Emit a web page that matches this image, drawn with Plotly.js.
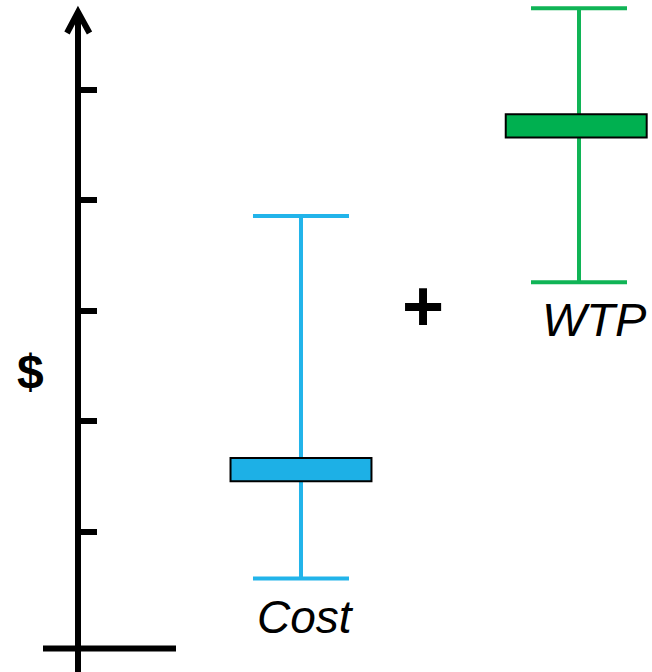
<!DOCTYPE html>
<html>
<head>
<meta charset="utf-8">
<script src="https://cdn.plot.ly/plotly-3.0.1.min.js"></script>
<style>html,body{margin:0;padding:0;background:#fff;}#chart{width:652px;height:672px;}</style>
</head>
<body>
<div id="chart"></div>
<script>
// Data (values in arbitrary $ units; axis ticks at 1..5)
const categories = ['Cost', 'WTP'];
const categoryPos = [1, 2];
const lowValues  = [0.58, 3.26];
const q1Values   = [1.46, 4.57];
const q3Values   = [1.67, 4.78];
const highValues = [3.86, 5.74];
const tickValues = [1, 2, 3, 4, 5];
const seriesColors = ['#1DB0E6', '#00B050'];
const whiskerColors = ['#22B4EA', '#10B456'];

const W = 652, H = 672;
const px = v => v / W;           // pixel x -> paper
const py = v => 1 - v / H;       // pixel y -> paper
const font = 'Arial, "Liberation Sans", sans-serif';

const traces = [];
// whiskers (under boxes)
categories.forEach((c, i) => {
  traces.push({
    type: 'scatter', mode: 'markers', name: c + ' range',
    x: [categoryPos[i]], y: [q1Values[i]],
    marker: {color: 'rgba(0,0,0,0)', size: 1},
    error_y: {
      type: 'data', symmetric: false,
      array: [highValues[i] - q1Values[i]],
      arrayminus: [q1Values[i] - lowValues[i]],
      color: whiskerColors[i], thickness: 4, width: 48
    },
    hoverinfo: 'skip', showlegend: false, xaxis: 'x', yaxis: 'y'
  });
});
// boxes (overlay axes, drawn above whiskers)
traces.push({
  type: 'bar', x: [categoryPos[0], categoryPos[1] - 0.01],
  base: q1Values,
  y: q3Values.map((v, i) => v - q1Values[i]),
  width: 0.507,
  marker: {color: seriesColors, line: {color: '#000', width: 2}},
  hoverinfo: 'skip', showlegend: false, xaxis: 'x2', yaxis: 'y2'
});

const xr = [-0.0827, 2.2626];
const yr = [-0.267, 5.814];

const layout = {
  width: W, height: H,
  margin: {l: 0, r: 0, t: 0, b: 0},
  paper_bgcolor: '#fff', plot_bgcolor: 'rgba(0,0,0,0)',
  showlegend: false,
  xaxis: {range: xr, visible: false, fixedrange: true},
  yaxis: {range: yr, anchor: 'free', position: px(78), showline: false,
          showgrid: false, zeroline: false, ticks: 'inside', ticklen: 18,
          tickwidth: 6, tickcolor: '#000', tickvals: tickValues,
          showticklabels: false, fixedrange: true},
  xaxis2: {range: xr, overlaying: 'x', visible: false},
  yaxis2: {range: yr, overlaying: 'y', visible: false},
  shapes: [
    // vertical axis
    {type: 'line', xref: 'paper', yref: 'paper', x0: px(78), x1: px(78), y0: py(672), y1: py(11),
     line: {color: '#000', width: 6}},
    // arrow head
    {type: 'path', xref: 'paper', yref: 'paper',
     path: 'M' + px(67) + ',' + py(33) + ' L' + px(78) + ',' + py(12) + ' L' + px(89.5) + ',' + py(33),
     line: {color: '#000', width: 6}},
    // base line
    {type: 'line', xref: 'paper', yref: 'paper', x0: px(43), x1: px(176), y0: py(648.5), y1: py(648.5),
     line: {color: '#000', width: 6}}
  ],
  annotations: [
    {text: 'Cost', xref: 'paper', yref: 'paper', x: px(305), y: py(617), xanchor: 'center', yanchor: 'middle',
     showarrow: false, font: {family: font, size: 46, color: '#000', style: 'italic'}},
    {text: 'WTP', xref: 'paper', yref: 'paper', x: px(594), y: py(319), xanchor: 'center', yanchor: 'middle',
     showarrow: false, font: {family: font, size: 47, color: '#000', style: 'italic'}},
    {text: '<b>+</b>', xref: 'paper', yref: 'paper', x: px(423), y: py(306), xanchor: 'center', yanchor: 'middle',
     showarrow: false, font: {family: font, size: 72, color: '#000'}},
    {text: '<b>$</b>', xref: 'paper', yref: 'paper', x: px(30), y: py(371), xanchor: 'center', yanchor: 'middle',
     showarrow: false, font: {family: font, size: 48, color: '#000'}}
  ]
};

Plotly.newPlot('chart', traces, layout, {staticPlot: true, displayModeBar: false});
</script>
</body>
</html>
